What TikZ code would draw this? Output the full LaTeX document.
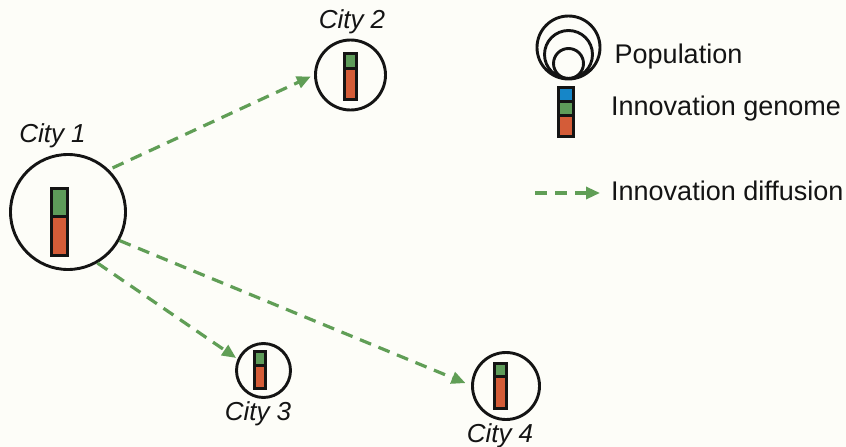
\documentclass[tikz,border=0pt]{standalone}
\usepackage{fontspec}
\setmainfont{Liberation Sans}
\usetikzlibrary{arrows.meta}
\definecolor{bg}{RGB}{253,253,248}
\definecolor{ink}{RGB}{20,20,20}
\definecolor{gred}{RGB}{212,92,56}
\definecolor{ggreen}{RGB}{94,156,90}
\definecolor{gblue}{RGB}{22,134,200}
\definecolor{agreen}{RGB}{96,158,86}
\newcommand\gbar[5]{%
  \fill[gred] ({#1+1.5},#4) rectangle ({#2-1.5},{#5-1.5});
  \fill[ggreen] ({#1+1.5},{#3+1.5}) rectangle ({#2-1.5},#4);
  \draw[bar] ({#1+1.5},{#3+1.5}) rectangle ({#2-1.5},{#5-1.5});
  \draw[bar] ({#1+1.5},#4) -- ({#2-1.5},#4);
}
\begin{document}
\begin{tikzpicture}[x=1pt,y=-1pt,
  city/.style={circle,draw=ink,line width=2.9pt,inner sep=0pt},
  lab/.style={font=\fontsize{26}{30}\selectfont\itshape,anchor=base,inner sep=0pt,text=ink},
  legtext/.style={font=\fontsize{27}{31}\selectfont,anchor=base west,inner sep=0pt,text=ink},
  diff/.style={draw=agreen,line width=3.2pt,dash pattern=on 12pt off 8pt,
    -{Triangle[length=14pt,width=12pt,fill=agreen]}},
  bar/.style={draw=ink,line width=3pt}]
\fill[bg] (0,0) rectangle (846,447);
\useasboundingbox (0,0) rectangle (846,447);

% cities
\node[city,minimum size=115pt] (c1) at (68,212) {};
\node[city,minimum size=70pt] (c2) at (350.5,75) {};
\node[city,minimum size=54pt] (c3) at (263.5,370.5) {};
\node[city,minimum size=67pt] (c4) at (506,386) {};

\gbar{50}{69}{187}{216}{257}
\gbar{343}{358}{52}{68}{101}
\gbar{253}{267}{350}{365}{390}
\gbar{493}{508}{362}{376}{410}

\node[lab] (l1) at (52.5,142) {City 1};
\node[lab] (l2) at (352,28) {City 2};
\node[lab] (l3) at (258,420) {City 3};
\node[lab] (l4) at (500,442) {City 4};

% diffusion arrows
\draw[diff,shorten <=4pt,shorten >=3.5pt] (c1.46) -- (c2.180);
\draw[diff,shorten >=6pt] (c1.-29) -- (c4.179);
\draw[diff,shorten >=1.7pt] (c1.-60) -- (c3.156);

% legend: population
\node[city,minimum size=63pt] (p1) at (568.5,47.5) {};
\node[city,minimum size=48pt] (p2) at (568.5,54.5) {};
\node[city,minimum size=30pt] (p3) at (568.5,63.5) {};
\node[legtext] (tpop) at (614.5,63) {Population};

% legend: genome
\fill[gred] (558.5,115) rectangle (573.5,136.5);
\fill[ggreen] (558.5,101.5) rectangle (573.5,115);
\fill[gblue] (558.5,87.5) rectangle (573.5,101.5);
\draw[bar] (558.5,87.5) rectangle (573.5,136.5);
\draw[bar] (558.5,101.5) -- (573.5,101.5);
\draw[bar] (558.5,115) -- (573.5,115);
\node[legtext] (tgen) at (611,115) {Innovation genome};

% legend: diffusion
\coordinate (la) at (535,193);
\coordinate (lb) at (600,193);
\draw[diff] (la) -- (lb);
\node[legtext] (tdif) at (611,200) {Innovation diffusion};
\end{tikzpicture}
\end{document}
